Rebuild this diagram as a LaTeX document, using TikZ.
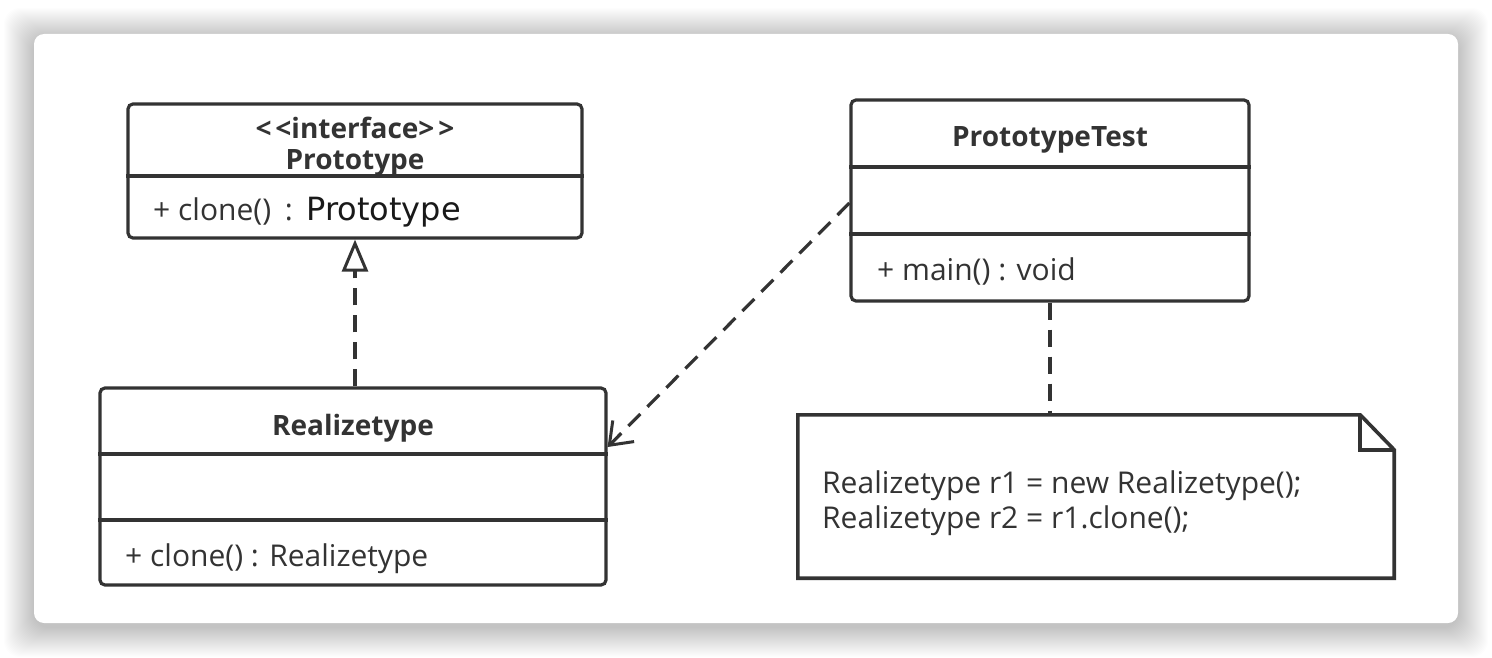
\documentclass[tikz,border=0pt]{standalone}
\usepackage{fontspec}
\setmainfont{Open Sans}
\newfontfamily\protofont{DejaVu Sans}
\usetikzlibrary{arrows.meta,calc}
\definecolor{linec}{HTML}{333333}
\definecolor{txtc}{HTML}{333333}
\begin{document}
\begin{tikzpicture}[x=1pt,y=-1pt,
  umlbox/.style={draw=linec, line width=3.2pt, rounded corners=5pt, fill=white, inner sep=0pt},
  divider/.style={draw=linec, line width=3.2pt},
  conn/.style={draw=linec, line width=3.2pt, dash pattern=on 17pt off 10pt},
  txt/.style={text=txtc, font=\fontsize{30}{35}\selectfont, inner sep=0pt},
  btxt/.style={text=txtc, font=\fontsize{28}{35}\selectfont\bfseries, inner sep=0pt},
]
\useasboundingbox (0,0) rectangle (1492,658);
\fill[white] (0,0) rectangle (1492,658);
% shadow
\foreach \i in {1,...,30} {
  \fill[black, opacity=0.006, rounded corners=16pt] (34-\i,34-\i+4) rectangle (1458+\i,623+\i+4);
}
\fill[white, rounded corners=10pt] (34,34) rectangle (1458,623);

% boxes
\node[umlbox, minimum width=454pt, minimum height=134pt] (proto) at (355,171) {};
\node[umlbox, minimum width=506pt, minimum height=197pt] (real) at (353,486.5) {};
\node[umlbox, minimum width=398pt, minimum height=201pt] (ptest) at (1050,200.5) {};
\node[inner sep=0pt, minimum width=596pt, minimum height=163pt] (note) at (1096,496.5) {};

% dividers
\draw[divider] (proto.west |- 0,176) -- (proto.east |- 0,176);
\draw[divider] (real.west |- 0,454) -- (real.east |- 0,454);
\draw[divider] (real.west |- 0,520) -- (real.east |- 0,520);
\draw[divider] (ptest.west |- 0,167) -- (ptest.east |- 0,167);
\draw[divider] (ptest.west |- 0,234) -- (ptest.east |- 0,234);

% note outline
\draw[linec, line width=3.6pt, line join=miter]
  (note.north west) -- ($(note.north east)+(-34,0)$) -- ($(note.north east)+(0,35)$)
  -- (note.south east) -- (note.south west) -- cycle;
\draw[linec, line width=3.6pt, line join=miter]
  ($(note.north east)+(-34,0)$) -- ($(note.north east)+(-34,35)$) -- ($(note.north east)+(0,35)$);

% texts
\node[btxt] (protost) at (355,128) {<\kern4pt<interface>\kern4pt>};
\node[btxt] (protoname) at (355,163) {Prototype};
\node[txt, anchor=west] (protoop) at (153,212) {+ clone()\kern6pt{} :\kern3pt{} {\protofont\fontsize{32}{36}\selectfont\color{black!90}Prototype}};
\node[btxt] (realname) at (353,428) {Realizetype};
\node[txt, anchor=west] (realop) at (125,559) {+ clone() : Realizetype};
\node[btxt] (ptestname) at (1050,140) {PrototypeTest};
\node[txt, anchor=west] (ptestop) at (877,271) {+ main() : void};
\node[txt, anchor=west, align=left] (notetxt) at (822,503) {Realizetype r1 = new Realizetype();\\Realizetype r2 = r1.clone();};

% connectors
\draw[conn, -{Triangle[open, length=32pt, width=26pt, line width=3pt]}]
  (proto.south |- real.north) -- (proto.south);
\draw[conn, -{Straight Barb[length=20pt, width=30pt, line width=3pt]}]
  (ptest.west |- 0,203) -- (real.east |- 0,447);
\draw[conn] (ptest.south) -- (ptest.south |- note.north);
\end{tikzpicture}
\end{document}
